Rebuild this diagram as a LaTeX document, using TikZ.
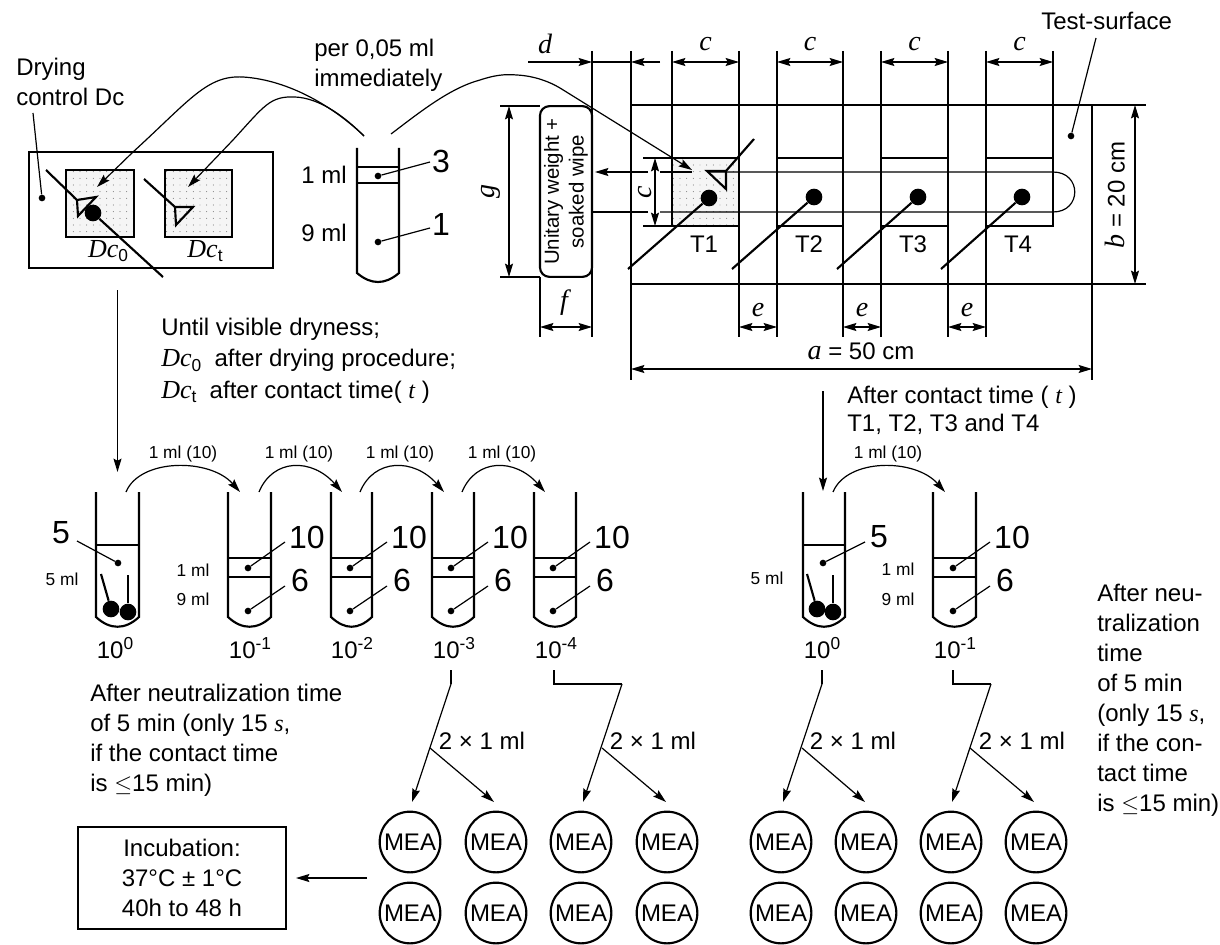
\documentclass[tikz,border=0pt]{standalone}
\usepackage{fontspec}
\setmainfont{Liberation Sans}
\newfontfamily\serifvar{Liberation Serif}
\usetikzlibrary{arrows.meta, patterns.meta}
\newcommand{\dimit}[1]{{\fontsize{21}{21}\selectfont\serifvar\itshape #1}}
\newcommand{\varit}[1]{{\serifvar\itshape #1}}
\newcommand{\dcname}{{\fontsize{19.5}{19.5}\selectfont\serifvar\itshape Dc}}
\newcommand{\expo}[1]{\raisebox{7pt}{\fontsize{13}{13}\selectfont #1}}
\newcommand{\lowr}[1]{\raisebox{-3.5pt}{\fontsize{13}{13}\selectfont #1}}

\tikzset{
    thinline/.style={line width=0.9pt},
    thickline/.style={line width=1.6pt},
    pointer/.style={line width=0.9pt, -{Stealth[length=10pt, width=6pt, inset=1.5pt]}},
    dimline/.style={line width=0.9pt, {Stealth[length=10pt, width=6pt, inset=1.5pt]}-{Stealth[length=10pt, width=6pt, inset=1.5pt]}},
    stipple/.style={pattern={Dots[radius=0.35pt, distance=5pt]}, pattern color=black!70},
    dotmark/.style={circle, fill=black, inner sep=0pt, minimum size=5pt},
    ball/.style={circle, fill=black, inner sep=0pt, minimum size=12.5pt},
    bodytext/.style={font=\fontsize{18}{22.5}\selectfont, inner sep=0pt, align=left, anchor=north west},
    smalltext/.style={font=\fontsize{13}{15}\selectfont, inner sep=0pt},
    bignum/.style={font=\fontsize{24}{24}\selectfont, inner sep=0pt},
    numtext/.style={font=\fontsize{18}{20}\selectfont, inner sep=0pt},
    mea/.style={draw, thickline, circle, inner sep=0pt, minimum size=45.5pt, font=\fontsize{18}{20}\selectfont},
}

\begin{document}
\begin{tikzpicture}[x=0.75pt, y=-0.75pt]
    \useasboundingbox (0,0) rectangle (1220,945);

    % drying control panel
    \draw[thickline] (29,152) rectangle (273,268);
    \fill[black!4] (66,170) rectangle (134,237);
    \fill[stipple] (66,170) rectangle (134,237);
    \draw[thickline] (66,170) rectangle (134,237);
    \fill[black!4] (165,170) rectangle (232,237);
    \fill[stipple] (165,170) rectangle (232,237);
    \draw[thickline] (165,170) rectangle (232,237);
    \node[ball] (dcball) at (93,213) {};
    \coordinate (dcstickA) at (46,170);
    \coordinate (dcstickB) at (163,277);
    \coordinate (dcstickC) at (144,179);
    \draw[thickline] (dcstickA) -- (77,200) -- (96,197) -- (78,216) -- (77,200);
    \draw[thickline] (dcball) -- (dcstickB);
    \draw[thickline] (dcstickC) -- (175,207) -- (193,207) -- (176,225) -- (175,207);
    \node[numtext] (dczero) at (108,251) {\dcname\lowr{0}};
    \node[numtext] (dctime) at (205,251) {\dcname\lowr{t}};

    \node[bodytext] (dryinglabel) at (16,58) {Drying\\control Dc};
    \node[dotmark] (dryingdot) at (42,198) {};
    \coordinate (dryingtop) at (33,113);
    \draw[thinline] (dryingtop) -- (dryingdot);

    % suspension tube
    \draw[thickline] (357,148) -- (357,273) .. controls (371,285) and (385,285) .. (399,273) -- (399,148);
    \draw[thickline] (357,167) -- (399,167) (357,183) -- (399,183);
    \node[bodytext, anchor=east] (onemltop) at (347,175) {1 ml};
    \node[bodytext, anchor=east] (ninemltop) at (347,233) {9 ml};
    \node[dotmark] (topdot) at (378,176) {};
    \node[dotmark] (lowdot) at (378,242) {};
    \node[bignum] (labelthree) at (441,161) {3};
    \node[bignum] (labelone) at (441,224) {1};
    \coordinate (threeend) at (430,162);
    \coordinate (oneend) at (430,228);
    \draw[thinline] (topdot) -- (threeend);
    \draw[thinline] (lowdot) -- (oneend);
    \node[bodytext] (perlabel) at (314,39) {per 0,05 ml\\immediately};

    \coordinate (pipetteL) at (364,136);
    \coordinate (pipetteR) at (391,134);
    \coordinate (targetA) at (97,187);
    \coordinate (targetB) at (188,187);
    \coordinate (targetC) at (692,170);
    \draw[pointer] (pipetteL) .. controls (335,108) and (290,80) .. (243,77) .. controls (207,75) and (190,100) .. (133,152) -- (targetA);
    \draw[pointer] (pipetteL) .. controls (345,117) and (320,98) .. (295,97) .. controls (270,96) and (265,105) .. (233,140) -- (targetB);

    % test surface
    \draw[thickline] (631,105) rectangle (1092,284);
    \fill[black!4] (672,158) rectangle (739,226);
    \fill[stipple] (672,158) rectangle (739,226);
    \draw[pointer] (pipetteR) .. controls (420,112) and (450,88) .. (480,80) .. controls (495,75) and (505,74) .. (517,75) .. controls (535,76) and (550,82) .. (560,88) -- (targetC);
    \foreach \n/\l/\r in {1/672/739, 2/777/843, 3/881/948, 4/986/1053} {
        \draw[thickline] (\l,158) rectangle (\r,226);
        \coordinate (cleft\n) at (\l,62);
        \coordinate (cright\n) at (\r,62);
        \draw[dimline] (cleft\n) -- (cright\n);
        \draw[thinline] (\l,51) -- (\l,158);
        \node[numtext] (clabel\n) at ({(\l+\r)/2},44) {\dimit{c}};
    }
    \foreach \n/\x/\y/\endx/\t in {1/709/198/628/704, 2/814/197/732/809, 3/918/197/837/913, 4/1022/197/941/1018} {
        \node[ball] (spot\n) at (\x,\y) {};
        \coordinate (stick\n) at (\endx,269);
        \draw[thickline] (spot\n) -- (stick\n);
        \node[numtext] (tlabel\n) at (\t,244) {T\n};
    }
    \coordinate (wipestick) at (754,139);
    \draw[thickline] (wipestick) -- (726,171) -- (707,171) -- (726,189) -- (726,171);

    % long extension lines
    \draw[thinline] (592,51) -- (592,337);
    \draw[thinline] (631,51) -- (631,380);
    \draw[thinline] (1092,284) -- (1092,380);
    \foreach \x in {739,843,948} {
        \draw[thinline] (\x,51) -- (\x,337);
    }
    \foreach \x in {777,881,986} {
        \draw[thinline] (\x,158) -- (\x,337);
    }
    \draw[thinline] (1053,51) -- (1053,158);
    \draw[thinline] (540,277) -- (540,337);

    % weight with wipe
    \node[draw, thickline, rounded corners=7pt, rotate=90, minimum width=128pt, minimum height=39pt, inner sep=0pt, align=center,
        font=\fontsize{15.3}{18.5}\selectfont] (wipebox) at (566,191.5) {Unitary weight +\\soaked wipe};
    \coordinate (pathstart) at (592,212);
    \coordinate (pathtip) at (595,172);
    \draw[pointer] (648,172) -- (pathtip);
    \draw[thinline] (660,172) -- (692,172);
    \draw[thinline] (707,172) -- (1053,172) .. controls (1082,172) and (1082,212) .. (1053,212) -- (660,212);
    \draw[thinline] (648,212) -- (pathstart);

    % dimensions
    \coordinate (dleft) at (528,62);
    \coordinate (dright) at (660,62);
    \draw[pointer] (dleft) -- (592,62);
    \draw[pointer] (dright) -- (631,62);
    \draw[thinline] (592,62) -- (631,62);
    \node[numtext] (dlabel) at (545,44) {\dimit{d}};
    \draw[thinline] (500,106) -- (540,106) (500,277) -- (540,277);
    \draw[dimline] (509,106) -- (509,277);
    \node[numtext, rotate=90] (glabel) at (491,192) {\dimit{g}};
    \draw[thinline] (643,158) -- (672,158) (643,226) -- (672,226);
    \draw[dimline] (655,158) -- (655,226);
    \node[numtext, rotate=90] (clabelside) at (645,192) {\dimit{c}};
    \draw[dimline] (540,327) -- (592,327);
    \node[numtext] (flabel) at (564,303) {\dimit{f}};
    \foreach \n/\l/\r in {1/739/777, 2/843/881, 3/948/986} {
        \draw[dimline] (\l,327) -- (\r,327);
        \node[numtext] (elabel\n) at ({(\l+\r)/2},310) {\dimit{e}};
    }
    \draw[dimline] (631,369) -- (1092,369);
    \node[numtext] (alabel) at (861,351) {\dimit{a} = 50 cm};
    \draw[thinline] (1092,105) -- (1146,105) (1092,284) -- (1146,284);
    \draw[dimline] (1135,105) -- (1135,284);
    \node[numtext, rotate=90] (blabel) at (1115,195) {\dimit{b} = 20 cm};
    \node[bodytext] (testlabel) at (1041,12) {Test-surface};
    \node[dotmark] (testdot) at (1071,136) {};
    \coordinate (testtop) at (1096,38);
    \draw[thinline] (testtop) -- (testdot);

    % captions
    \node[bodytext, font=\fontsize{18}{23.4}\selectfont] (dryness) at (161,318) {Until visible dryness;\\ \dcname\lowr{0}\ \ after drying procedure;\\ \dcname\lowr{t}\ \ after contact time( \varit{t} )};
    \node[bodytext, font=\fontsize{18}{21}\selectfont] (aftercontact) at (847,386) {After contact time ( \varit{t} )\\T1, T2, T3 and T4};
    \node[bodytext] (neutleft) at (90,684) {After neutralization time\\of 5 min (only 15 \varit{s},\\if the contact time\\is $\leq$15 min)};
    \node[bodytext] (neutright) at (1097,584) {After neu-\\tralization\\time\\of 5 min\\(only 15 \varit{s},\\if the con-\\tact time\\is $\leq$15 min)};

    % main tubes
    \foreach \n/\l/\r/\m/\e in {L/96/139/118/115, R/803/845/823/822} {
        \draw[thickline] (\l,492) -- (\l,617) .. controls (\l+14,630) and (\r-14,630) .. (\r,617) -- (\r,492);
        \draw[thickline] (\l,545) -- (\r,545);
        \node[dotmark] (mdot\n) at (\m,563) {};
        \node[numtext] (mexp\n) at (\e,648) {10\expo{0}};
    }
    \coordinate (mleadL) at (77,541);
    \coordinate (mleadR) at (865,542);
    \draw[thinline] (mdotL) -- (mleadL);
    \draw[thinline] (mdotR) -- (mleadR);
    \node[bignum] (fiveL) at (61,533) {5};
    \node[bignum] (fiveR) at (879,537) {5};
    \node[smalltext] (fivemlL) at (62,579) {5 ml};
    \node[smalltext] (fivemlR) at (767,578) {5 ml};
    \foreach \n/\xa/\ya/\xb/\yb/\sa/\sb in {L/111/609/128/612/101/128, R/817/609/833/612/807/833} {
        \node[ball] (ballA\n) at (\xa,\ya) {};
        \node[ball] (ballB\n) at (\xb,\yb) {};
        \coordinate (stickA\n) at (\sa,574);
        \coordinate (stickB\n) at (\sb,575);
        \draw[thickline] (stickA\n) -- (ballA\n);
        \draw[thickline] (stickB\n) -- (ballB\n);
    }

    % dilution tubes
    \foreach \n/\l/\r/\m/\p/\e in {a/228/271/248/1/250, b/331/372/350/2/352, c/432/474/451/3/454, d/534/576/553/4/556, e/933/976/953/1/955} {
        \draw[thickline] (\l,492) -- (\l,617) .. controls (\l+14,630) and (\r-14,630) .. (\r,617) -- (\r,492);
        \draw[thickline] (\l,558) -- (\r,558) (\l,577) -- (\r,577);
        \node[dotmark] (liq\n) at (\m,568) {};
        \node[dotmark] (dil\n) at (\m,611) {};
        \coordinate (liqend\n) at (\m+37,542);
        \coordinate (dilend\n) at (\m+37,586);
        \draw[thinline] (liq\n) -- (liqend\n);
        \draw[thinline] (dil\n) -- (dilend\n);
        \node[bignum] (ten\n) at (\m+59,537) {10};
        \node[bignum] (six\n) at (\m+52,580) {6};
        \node[numtext] (dexp\n) at (\e,648) {10\expo{-\p}};
    }
    \node[smalltext] (onemlA) at (193,570) {1 ml};
    \node[smalltext] (ninemlA) at (193,599) {9 ml};
    \node[smalltext] (onemlE) at (898,569) {1 ml};
    \node[smalltext] (ninemlE) at (898,599) {9 ml};

    % transfers between tubes
    \foreach \n/\a/\b/\lab in {1/126/240/183, 2/259/342/299, 3/360/444/400, 4/462/545/502, 5/833/945/888} {
        \coordinate (from\n) at (\a,492);
        \coordinate (to\n) at (\b,492);
        \draw[pointer] (from\n) .. controls (\a+14,458) and (\b-30,458) .. (to\n);
        \node[smalltext] (transfer\n) at (\lab,454) {1 ml (10)};
    }
    \coordinate (dropL) at (117.5,290);
    \coordinate (dropLend) at (117.5,472);
    \coordinate (dropR) at (823,391);
    \coordinate (dropRend) at (823,491);
    \draw[pointer] (dropL) -- (dropLend);
    \draw[pointer] (dropR) -- (dropRend);

    % plating
    \foreach \n/\x/\kx/\bx/\tx/\fx/\lx in {a/451/451/430/412/494/482, b/554/622/602/583/666/653, c/822/822/802/783/865/853, d/953/991/970/952/1034/1022} {
        \coordinate (plate\n) at (\x,670);
        \coordinate (bend\n) at (\x,684);
        \coordinate (knee\n) at (\kx,684);
        \coordinate (fork\n) at (\bx,748);
        \coordinate (tipA\n) at (\tx,802);
        \coordinate (tipB\n) at (\fx,802);
        \draw[thinline] (plate\n) -- (bend\n) -- (knee\n);
        \draw[pointer] (knee\n) -- (tipA\n);
        \draw[pointer] (fork\n) -- (tipB\n);
        \node[numtext] (times\n) at (\lx,741) {2 × 1 ml};
    }
    \foreach \n/\x in {a/410, b/496, c/581, d/667, e/781, f/866, g/951, h/1036} {
        \node[mea] (meatop\n) at (\x,842) {MEA};
        \node[mea] (meabot\n) at (\x,913) {MEA};
    }
    \node[draw, thickline, minimum width=156pt, minimum height=76pt, inner sep=0pt, align=center,
        font=\fontsize{18}{22.5}\selectfont] (incubation) at (182,878) {Incubation:\\37°C ± 1°C\\40h to 48 h};
    \coordinate (platesout) at (367,878);
    \coordinate (incubationtip) at (296,878);
    \draw[pointer] (platesout) -- (incubationtip);
\end{tikzpicture}
\end{document}
